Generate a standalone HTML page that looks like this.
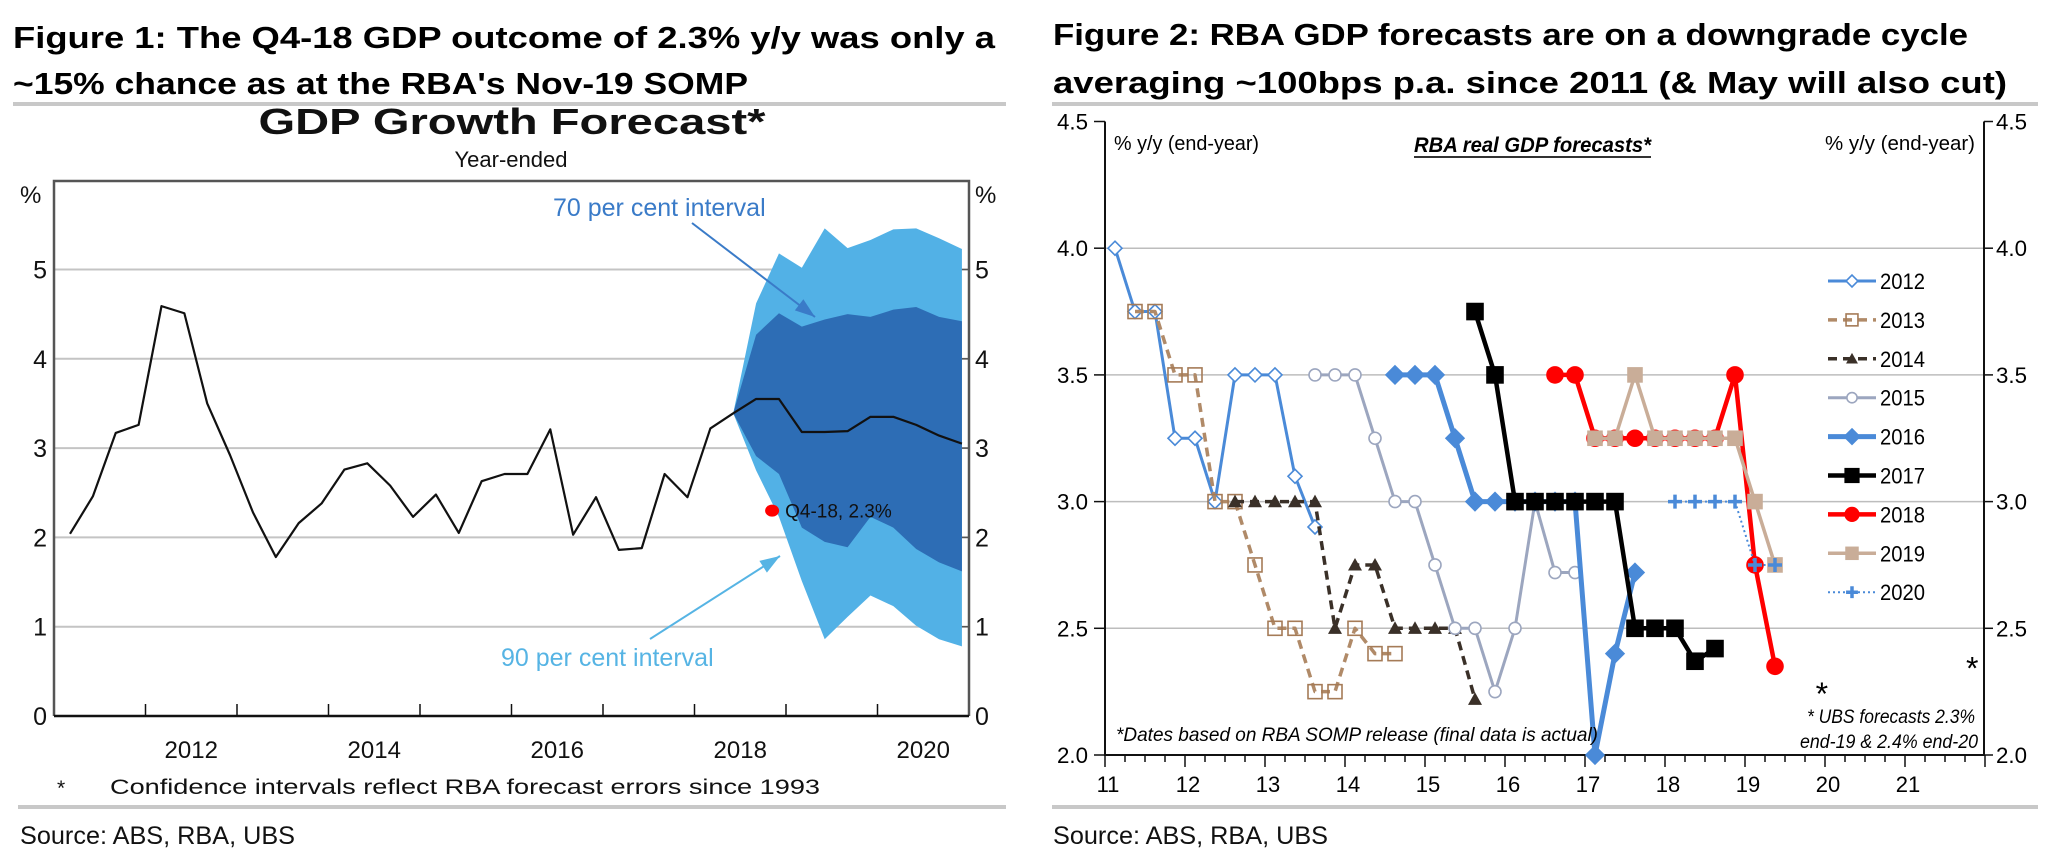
<!DOCTYPE html>
<html><head><meta charset="utf-8"><style>
html,body{margin:0;padding:0;background:#fff;}
svg{display:block;font-family:"Liberation Sans",Arial,sans-serif;}
</style></head><body>
<svg id="root" width="2051" height="857" viewBox="0 0 2051 857" xmlns="http://www.w3.org/2000/svg">
<rect width="2051" height="857" fill="#fff"/>
<!-- Figure 1 headings -->
<text x="13" y="48" font-size="31" font-weight="bold" textLength="982" lengthAdjust="spacingAndGlyphs">Figure 1: The Q4-18 GDP outcome of 2.3% y/y was only a</text>
<text x="13" y="94" font-size="31" font-weight="bold" textLength="735" lengthAdjust="spacingAndGlyphs">~15% chance as at the RBA's Nov-19 SOMP</text>
<rect x="13" y="102" width="993" height="4" fill="#c8c8c8"/>
<text x="512" y="134" font-size="36" font-weight="bold" text-anchor="middle" textLength="507" lengthAdjust="spacingAndGlyphs" fill="#111">GDP Growth Forecast*</text>
<text x="511" y="167" font-size="22" text-anchor="middle" fill="#111">Year-ended</text>
<text x="20" y="203" font-size="24" fill="#111">%</text>
<text x="975" y="203" font-size="24" fill="#111">%</text>
<g id="c1"></g>
<text x="57" y="795" font-size="21" fill="#111">*</text>
<text x="110" y="794" font-size="21" fill="#111" textLength="710" lengthAdjust="spacingAndGlyphs">Confidence intervals reflect RBA forecast errors since 1993</text>
<rect x="18" y="805" width="988" height="4" fill="#c8c8c8"/>
<text x="20" y="844" font-size="25" fill="#111" textLength="275" lengthAdjust="spacingAndGlyphs">Source: ABS, RBA, UBS</text>

<!-- Figure 2 headings -->
<text x="1053" y="45" font-size="31" font-weight="bold" textLength="915" lengthAdjust="spacingAndGlyphs">Figure 2: RBA GDP forecasts are on a downgrade cycle</text>
<text x="1053" y="93" font-size="31" font-weight="bold" textLength="954" lengthAdjust="spacingAndGlyphs">averaging ~100bps p.a. since 2011 (&amp; May will also cut)</text>
<rect x="1052" y="102" width="986" height="4" fill="#c8c8c8"/>
<text x="1114" y="150" font-size="20" textLength="145" lengthAdjust="spacingAndGlyphs">% y/y (end-year)</text>
<text x="1975" y="150" font-size="20" text-anchor="end" textLength="150" lengthAdjust="spacingAndGlyphs">% y/y (end-year)</text>
<text x="1414" y="152" font-size="21" font-weight="bold" font-style="italic" textLength="237" lengthAdjust="spacingAndGlyphs">RBA real GDP forecasts*</text>
<rect x="1414" y="156" width="237" height="2" fill="#333"/>
<g id="c2"></g>
<text x="1116" y="741" font-size="19" font-style="italic" textLength="482" lengthAdjust="spacingAndGlyphs">*Dates based on RBA SOMP release (final data is actual)</text>
<text x="1975" y="723" font-size="19" font-style="italic" text-anchor="end" textLength="168" lengthAdjust="spacingAndGlyphs">* UBS forecasts 2.3%</text>
<text x="1978" y="748" font-size="19" font-style="italic" text-anchor="end" textLength="178" lengthAdjust="spacingAndGlyphs">end-19 &amp; 2.4% end-20</text>
<rect x="1052" y="805" width="986" height="4" fill="#c8c8c8"/>
<text x="1053" y="844" font-size="25" fill="#111" textLength="275" lengthAdjust="spacingAndGlyphs">Source:  ABS, RBA, UBS</text>
</svg>
<script>
// ---------- Chart 1 data ----------
const gdpValues = [2.04,2.46,3.17,3.26,4.59,4.51,3.5,2.92,2.28,1.78,2.16,2.38,2.76,2.83,2.58,2.23,2.48,2.05,2.63,2.71,2.71,3.21,2.03,2.45,1.86,1.88,2.71,2.45,3.22,3.39,3.55,3.55,3.18,3.18,3.19,3.35,3.35,3.26,3.14,3.05];
const bandStart = 29;
const outerUpper = [3.39,4.62,5.18,5.02,5.46,5.24,5.33,5.45,5.46,5.35,5.23];
const innerUpper = [3.39,4.27,4.51,4.36,4.44,4.5,4.47,4.55,4.58,4.47,4.42];
const innerLower = [3.39,2.91,2.71,2.11,1.95,1.89,2.23,2.11,1.87,1.72,1.62];
const outerLower = [3.39,2.75,2.23,1.51,0.86,1.11,1.35,1.23,1.01,0.86,0.78];
const actualValue = 2.3;
const actualIndex = 30.7;
const c1YTicks = [0,1,2,3,4,5];
const c1XLabels = ["2012","2014","2016","2018","2020"];
const c1XLabelYears = [2012,2014,2016,2018,2020];

// ---------- Chart 2 data ----------
const seriesNames = ["2012","2013","2014","2015","2016","2017","2018","2019","2020"];
const seriesStart = [0,1,6,10,14,18,22,24,28];
const s2012 = [4.0,3.75,3.75,3.25,3.25,3.0,3.5,3.5,3.5,3.1,2.9];
const s2013 = [3.75,3.75,3.5,3.5,3.0,3.0,2.75,2.5,2.5,2.25,2.25,2.5,2.4,2.4];
const s2014 = [3.0,3.0,3.0,3.0,3.0,2.5,2.75,2.75,2.5,2.5,2.5,2.5,2.22];
const s2015 = [3.5,3.5,3.5,3.25,3.0,3.0,2.75,2.5,2.5,2.25,2.5,3.0,2.72,2.72];
const s2016 = [3.5,3.5,3.5,3.25,3.0,3.0,3.0,3.0,3.0,3.0,2.0,2.4,2.72];
const s2017 = [3.75,3.5,3.0,3.0,3.0,3.0,3.0,3.0,2.5,2.5,2.5,2.37,2.42];
const s2018 = [3.5,3.5,3.25,3.25,3.25,3.25,3.25,3.25,3.25,3.5,2.75,2.35];
const s2019 = [3.25,3.25,3.5,3.25,3.25,3.25,3.25,3.25,3.0,2.75];
const s2020 = [3.0,3.0,3.0,3.0,2.75,2.75];
const c2YTicks = ["2.0","2.5","3.0","3.5","4.0","4.5"];
const c2XLabels = ["11","12","13","14","15","16","17","18","19","20","21"];
const ubsForecastYears = [19.96, 21.84];
const ubsForecastValues = [2.3, 2.4];

const NS = "http://www.w3.org/2000/svg";
function mk(tag, attrs, parent){
  const e = document.createElementNS(NS, tag);
  for (const k in attrs) e.setAttribute(k, attrs[k]);
  parent.appendChild(e);
  return e;
}
// ---------- Chart 1 ----------
const c1 = document.getElementById('c1');
const X1 = yr => 54 + 91.5*(yr-2011);
const XQ = i => 70 + 22.87*i;
const Y1 = v => 716 - 89.3*v;
c1YTicks.forEach(v=>{
  if (v>0){
    const g = mk('line',{x1:54,x2:969,y1:Y1(v),y2:Y1(v),stroke:'#c4c4c4','stroke-width':2},c1);
    
    
  }
  const t = mk('text',{x:47,y:Y1(v)+9,'font-size':25,'text-anchor':'end',fill:'#111'},c1);
  t.textContent = v;
  
  
  const t2 = mk('text',{x:975,y:Y1(v)+9,'font-size':25,fill:'#111'},c1);
  t2.textContent = v;
  
  
  const tk = mk('line',{x1:961,x2:969,y1:Y1(v),y2:Y1(v),stroke:'#555','stroke-width':1.5},c1);
  
  
});
function band(up, lo, color, name){
  let pts = [];
  up.forEach((v,i)=>pts.push(XQ(bandStart+i)+','+Y1(v)));
  for (let i=lo.length-1;i>=0;i--) pts.push(XQ(bandStart+i)+','+Y1(lo[i]));
  const p = mk('polygon',{points:pts.join(' '),fill:color},c1);
  
  
}
band(outerUpper, outerLower, '#52b1e6', 'band-90-percent');
band(innerUpper, innerLower, '#2d6db5', 'band-70-percent');
const gl = mk('polyline',{points:gdpValues.map((v,i)=>XQ(i)+','+Y1(v)).join(' '),fill:'none',stroke:'#111','stroke-width':2.2,'stroke-linejoin':'round'},c1);


const dot = mk('ellipse',{cx:XQ(actualIndex),cy:Y1(actualValue),rx:7,ry:6,fill:'#ff0000'},c1);


const dl = mk('text',{x:XQ(actualIndex)+13,y:Y1(actualValue)+7,'font-size':19,fill:'#111'},c1);
dl.textContent = 'Q4-18, 2.3%';


const fr = mk('path',{d:'M54 716 L54 181 L969 181 L969 716',fill:'none',stroke:'#555','stroke-width':2.5},c1);


const xa = mk('line',{x1:54,x2:969,y1:716,y2:716,stroke:'#111','stroke-width':2.5},c1);


for (let yr=2012; yr<=2020; yr++){
  const tk = mk('line',{x1:X1(yr),x2:X1(yr),y1:704,y2:716,stroke:'#111','stroke-width':1.5},c1);
  
  
}
c1XLabels.forEach((s,i)=>{
  const t = mk('text',{x:X1(c1XLabelYears[i]+0.5),y:758,'font-size':24,'text-anchor':'middle',fill:'#111'},c1);
  t.textContent = s;
  
  
});
function arrow(x1,y1,x2,y2,color,name){
  const l = mk('line',{x1:x1,y1:y1,x2:x2,y2:y2,stroke:color,'stroke-width':2},c1);
  
  
  const a = Math.atan2(y2-y1,x2-x1), L=20, W=7;
  const bx = x2-L*Math.cos(a), by = y2-L*Math.sin(a);
  const h = mk('polygon',{points:`${x2},${y2} ${bx+W*Math.sin(a)},${by-W*Math.cos(a)} ${bx-W*Math.sin(a)},${by+W*Math.cos(a)}`,fill:color},c1);
  
  
}
const a70 = mk('text',{x:553,y:216,'font-size':25,fill:'#3a7bc8'},c1);
a70.textContent = '70 per cent interval';


arrow(692,223,815,317,'#3a7bc8','arrow-70-percent');
const a90 = mk('text',{x:501,y:666,'font-size':25,fill:'#56b4e4'},c1);
a90.textContent = '90 per cent interval';


arrow(650,639,780,556,'#56b4e4','arrow-90-percent');

// ---------- Chart 2 ----------
const c2 = document.getElementById('c2');
const X2 = t => 1105 + 80*(t-11);
const XR = k => 1115 + 20*k;
const Y2 = v => 755 - 253.4*(v-2);
c2YTicks.forEach(s=>{
  const v = parseFloat(s);
  if (v>2 && v<4.5){
    const g = mk('line',{x1:1105,x2:1984,y1:Y2(v),y2:Y2(v),stroke:'#bdbdbd','stroke-width':1.5},c2);
    
    
  }
  const tl = mk('line',{x1:1094,x2:1105,y1:Y2(v),y2:Y2(v),stroke:'#111','stroke-width':1.5},c2);
  
  
  const tr = mk('line',{x1:1984,x2:1993,y1:Y2(v),y2:Y2(v),stroke:'#111','stroke-width':1.5},c2);
  
  
  const t = mk('text',{x:1088,y:Y2(v)+8,'font-size':22,'text-anchor':'end',textLength:31,lengthAdjust:'spacingAndGlyphs'},c2);
  t.textContent = s;
  
  
  const t2 = mk('text',{x:1996,y:Y2(v)+8,'font-size':22,textLength:31,lengthAdjust:'spacingAndGlyphs'},c2);
  t2.textContent = s;
  
  
});
const ax = mk('path',{d:`M1105 ${Y2(4.5)} L1105 755 L1984 755 L1984 ${Y2(4.5)}`,fill:'none',stroke:'#111','stroke-width':2},c2);


for (let q=0; q<=44; q++){
  const major = q%4===0;
  const tk = mk('line',{x1:X2(11+q/4),x2:X2(11+q/4),y1:755,y2:major?767:762,stroke:'#111','stroke-width':1.5},c2);
  
  
}
c2XLabels.forEach(s=>{
  const t = mk('text',{x:X2(parseInt(s))+3,y:792,'font-size':22,'text-anchor':'middle'},c2);
  t.textContent = s;
  
  
});
const styles = [
  {c:'#4a8ad8',w:3,d:'',m:'diamond',s:7,f:'#fff'},
  {c:'#b08a68',w:3.5,d:'9,6',m:'square',s:7,f:'none',mc:'#a57b57'},
  {c:'#3a3028',w:3.5,d:'9,6',m:'triangle',s:7,f:'#3a3028'},
  {c:'#9ca6bf',w:3,d:'',m:'circle',s:6,f:'#fff'},
  {c:'#4a8ad8',w:5,d:'',m:'diamond',s:9,f:'#4a8ad8'},
  {c:'#000',w:4.5,d:'',m:'square',s:8,f:'#000'},
  {c:'#ff0000',w:4.5,d:'',m:'circle',s:8,f:'#ff0000'},
  {c:'#c9ad98',w:3.5,d:'',m:'square',s:7,f:'#c9ad98'},
  {c:'#4a8ad8',w:2,d:'2,3',m:'plus',s:7,f:'#4a8ad8'}
];
function marker(g,type,x,y,s,fill,col){
  let e;
  if (type==='diamond') e = mk('polygon',{points:`${x},${y-s} ${x+s},${y} ${x},${y+s} ${x-s},${y}`,fill:fill,stroke:col,'stroke-width':1.6},g);
  else if (type==='square') e = mk('rect',{x:x-s,y:y-s,width:2*s,height:2*s,fill:fill,stroke:col,'stroke-width':1.6},g);
  else if (type==='triangle') e = mk('polygon',{points:`${x},${y-s} ${x+s},${y+s*0.8} ${x-s},${y+s*0.8}`,fill:fill},g);
  else if (type==='circle') e = mk('circle',{cx:x,cy:y,r:s,fill:fill,stroke:col,'stroke-width':1.6},g);
  else e = mk('path',{d:`M${x-s} ${y}H${x+s}M${x} ${y-s}V${y+s}`,stroke:col,'stroke-width':3.5,fill:'none'},g);
  return e;
}
const allSeries = [s2012,s2013,s2014,s2015,s2016,s2017,s2018,s2019,s2020];
allSeries.forEach((vals,si)=>{
  const st = styles[si];
  const g = mk('g',{},c2);
  
  
  const pl = mk('polyline',{points:vals.map((v,i)=>XR(seriesStart[si]+i)+','+Y2(v)).join(' '),fill:'none',stroke:st.c,'stroke-width':st.w,'stroke-dasharray':st.d,'stroke-linejoin':'round'},g);
  
  
  vals.forEach((v,i)=>{
    const m = marker(g,st.m,XR(seriesStart[si]+i),Y2(v),st.s,st.f,st.mc||st.c);
    
    
  });
  const ly = 281 + 38.9*si;
  const lg = mk('g',{},c2);
  
  
  mk('line',{x1:1828,x2:1876,y1:ly,y2:ly,stroke:st.c,'stroke-width':st.w,'stroke-dasharray':st.d},lg);
  marker(lg,st.m,1852,ly,st.s*0.85,st.f,st.mc||st.c);
  const lt = mk('text',{x:1880,y:ly+8,'font-size':22,textLength:45,lengthAdjust:'spacingAndGlyphs'},lg);
  lt.textContent = seriesNames[si];
});
ubsForecastYears.forEach((yr,i)=>{
  const t = mk('text',{x:X2(yr),y:Y2(ubsForecastValues[i])+26,'font-size':32,'text-anchor':'middle'},c2);
  t.textContent = '*';
  
  
});
</script>
</body></html>
